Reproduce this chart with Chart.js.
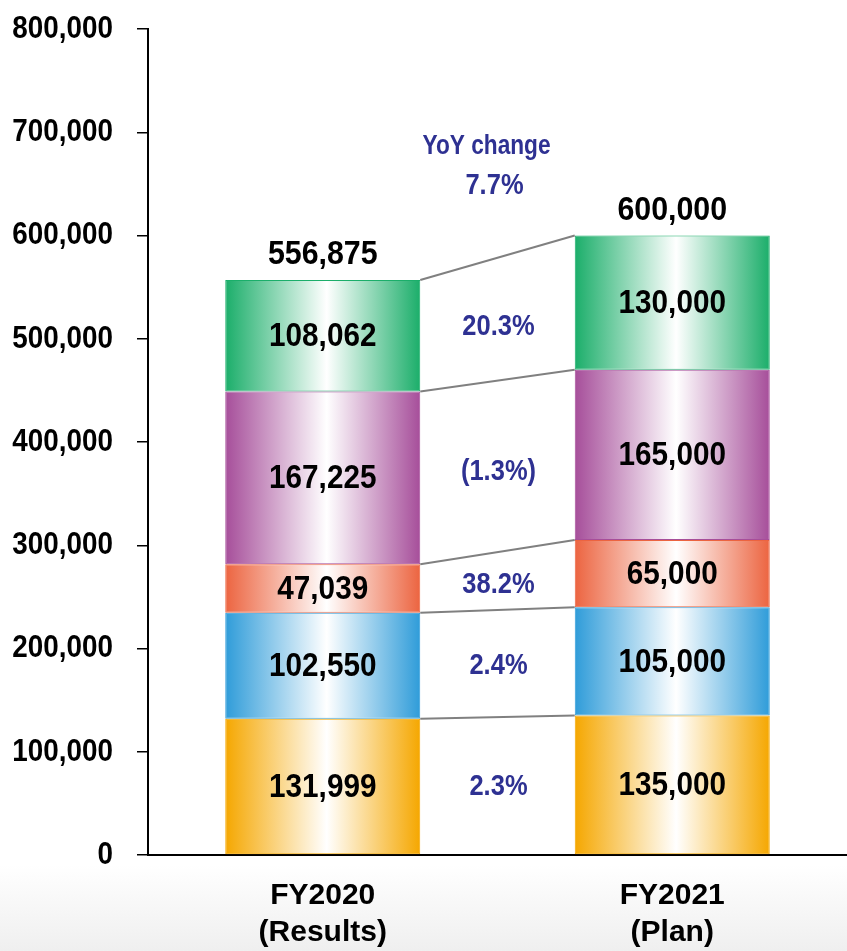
<!DOCTYPE html>
<html>
<head>
<meta charset="utf-8">
<script src="https://cdn.jsdelivr.net/npm/chart.js@4.4.1/dist/chart.umd.min.js"></script>
<style>
  html, body { margin: 0; padding: 0; }
  body {
    width: 847px; height: 951px; overflow: hidden;
    background: linear-gradient(to bottom, #ffffff 0px, #ffffff 865px, #efefef 951px);
  }
</style>
</head>
<body>
<canvas id="graph" width="847" height="951"></canvas>
<script>
// data
const categories = [['FY2020', '(Results)'], ['FY2021', '(Plan)']];
const segYellow = [131999, 135000];
const segBlue = [102550, 105000];
const segRed = [47039, 65000];
const segPurple = [167225, 165000];
const segGreen = [108062, 130000];
const totals = [556875, 600000];
const yoyChanges = ['2.3%', '2.4%', '38.2%', '(1.3%)', '20.3%'];
const yoyTitle = 'YoY change';
const yoyTotal = '7.7%';
const yMax = 800000;
const yStep = 100000;

style = {
  yellow: '#F5A700',
  blue: '#2F9CD9',
  red: '#EC6440',
  purple: '#A64E9A',
  green: '#1BAE6A',
  navy: '#2E3192',
  connector: '#808080',
  font: "'Liberation Sans', Arial, sans-serif"
}

const barPct = 0.558;

// bold text squeezed horizontally (narrow look of the original)
const squeezed = (c, text, x, y, size, sx) => {
  c.save();
  c.translate(x, y);
  c.scale(sx, 1);
  c.font = 'bold ' + size + 'px ' + style.font;
  c.fillText(text, 0, 0);
  c.restore();
};

// horizontal gradient: colour at the edges, white near the middle
const barFill = (color) => (ctx) => {
  const chart = ctx.chart;
  const xs = chart.scales.x;
  if (!chart.chartArea || !xs || ctx.dataIndex === undefined) return color;
  const cx = xs.getPixelForValue(ctx.dataIndex);
  const half = (xs.width / categories.length) * barPct / 2;
  const g = chart.ctx.createLinearGradient(cx - half, 0, cx + half, 0);
  g.addColorStop(0, color);
  g.addColorStop(0.52, '#ffffff');
  g.addColorStop(1, color);
  return g;
};

const makeSet = (label, data, color) => ({
  label,
  data,
  backgroundColor: barFill(color),
  borderColor: color,
  borderWidth: 1,
  borderSkipped: false,
  barPercentage: barPct,
  categoryPercentage: 1
});

// y tick labels, connectors, segment values, YoY changes and totals
const overlay = {
  id: 'overlay',
  afterDatasetsDraw(chart) {
    const c = chart.ctx;
    const ys = chart.scales.y;
    const n = chart.data.datasets.length;
    c.save();

    // y tick labels
    c.fillStyle = '#000';
    c.textAlign = 'right';
    c.textBaseline = 'middle';
    ys.ticks.forEach((t) => {
      squeezed(c, t.value.toLocaleString('en-US'), 113, ys.getPixelForValue(t.value), 32, 0.87);
    });

    // connector lines between the tops of matching segments
    c.strokeStyle = style.connector;
    c.lineWidth = 2;
    for (let k = 0; k < n; k++) {
      const a = chart.getDatasetMeta(k).data[0];
      const b = chart.getDatasetMeta(k).data[1];
      c.beginPath();
      c.moveTo(a.x + a.width / 2, a.y);
      c.lineTo(b.x - b.width / 2, b.y);
      c.stroke();
    }

    // values inside segments
    c.textAlign = 'center';
    for (let k = 0; k < n; k++) {
      const meta = chart.getDatasetMeta(k);
      meta.data.forEach((el, i) => {
        const v = chart.data.datasets[k].data[i];
        squeezed(c, v.toLocaleString('en-US'), el.x, (el.y + el.base) / 2 + 1, 33, 0.9);
      });
    }

    // totals above the bars
    const top = chart.getDatasetMeta(n - 1);
    top.data.forEach((el, i) => {
      squeezed(c, totals[i].toLocaleString('en-US'), el.x, ys.getPixelForValue(totals[i]) - 25, 33, 0.92);
    });

    // YoY changes between the bars
    const a0 = chart.getDatasetMeta(0).data[0];
    const b0 = chart.getDatasetMeta(0).data[1];
    const gapX = ((a0.x + a0.width / 2) + (b0.x - b0.width / 2)) / 2;
    c.fillStyle = style.navy;
    for (let k = 0; k < n; k++) {
      const a = chart.getDatasetMeta(k).data[0];
      const b = chart.getDatasetMeta(k).data[1];
      const m1 = (a.y + a.base) / 2;
      const m2 = (b.y + b.base) / 2;
      squeezed(c, yoyChanges[k], gapX + 1, 0.7 * m1 + 0.3 * m2 + 1, 30, 0.85);
    }
    const ty = ys.getPixelForValue(totals[1]);
    squeezed(c, yoyTitle, gapX - 11, ty - 89, 27, 0.84);
    squeezed(c, yoyTotal, gapX - 3, ty - 50, 30, 0.85);

    c.restore();
  }
};

const config = {
  type: 'bar',
  data: {
    labels: categories,
    datasets: [
      makeSet('Yellow', segYellow, style.yellow),
      makeSet('Blue', segBlue, style.blue),
      makeSet('Red', segRed, style.red),
      makeSet('Purple', segPurple, style.purple),
      makeSet('Green', segGreen, style.green)
    ]
  },
  options: {
    responsive: false,
    animation: false,
    devicePixelRatio: 1,
    layout: { padding: { top: 29, right: 0, bottom: 0, left: 0 } },
    plugins: {
      legend: { display: false },
      tooltip: { enabled: false }
    },
    scales: {
      x: {
        stacked: true,
        grid: { display: false },
        border: { display: true, color: '#000', width: 2 },
        ticks: {
          color: '#000',
          padding: 14,
          font: { family: style.font, size: 30, weight: 'bold', lineHeight: '37px' }
        },
        afterFit: (scale) => { scale.height = 96; }
      },
      y: {
        stacked: true,
        min: 0,
        max: yMax,
        grid: {
          drawOnChartArea: false,
          drawTicks: true,
          tickLength: 11,
          color: '#000',
          lineWidth: 1.5
        },
        border: { display: true, color: '#000', width: 2 },
        ticks: {
          // drawn by the overlay plugin with a narrow look
          stepSize: yStep,
          color: 'rgba(0,0,0,0)',
          padding: 23,
          font: { family: style.font, size: 8 },
          callback: (v) => v.toLocaleString('en-US')
        },
        afterFit: (scale) => { scale.width = 148; }
      }
    }
  },
  plugins: [overlay]
};

graph = new Chart(document.getElementById('graph'), config);
</script>
</body>
</html>
